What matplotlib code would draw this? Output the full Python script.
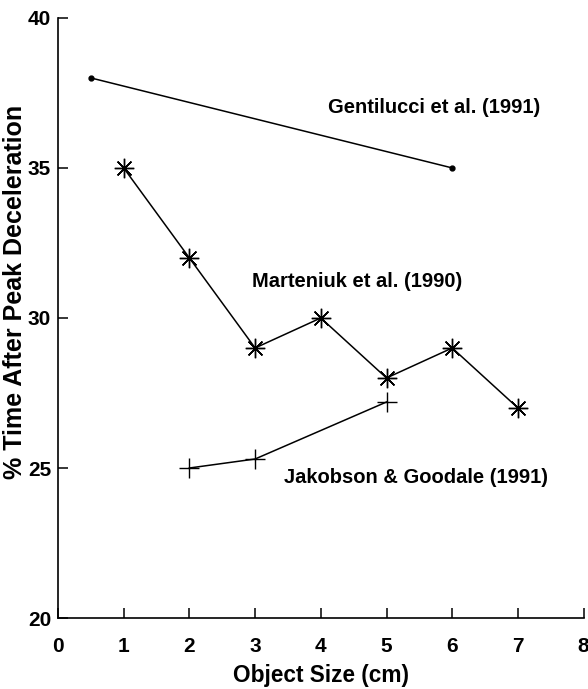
import matplotlib.pyplot as plt

plt.rcParams['font.family'] = ['Liberation Sans', 'DejaVu Sans']
plt.rcParams['font.weight'] = 'bold'

# % time after peak deceleration vs object size
gent_x = [0.5, 6]
gent_y = [38, 35]

mart_x = [1, 2, 3, 4, 5, 6, 7]
mart_y = [35, 32, 29, 30, 28, 29, 27]

jak_x = [2, 3, 5]
jak_y = [25, 25.3, 27.2]

x_ticks = [0, 1, 2, 3, 4, 5, 6, 7, 8]
y_ticks = [20, 25, 30, 35, 40]

fig = plt.figure(figsize=(5.88, 6.89), dpi=100)
ax = fig.add_axes([0.0986, 0.103, 0.894, 0.871])

ax.plot(gent_x, gent_y, color='black', lw=1.1, marker='o', ms=3.5)
ax.plot(mart_x, mart_y, color='black', lw=1.1, marker=(8, 2, 0), ms=14, mew=1.0)
ax.plot(jak_x, jak_y, color='black', lw=1.1, marker='+', ms=14, mew=1.0)

ax.text(5.73, 37.03, 'Gentilucci et al. (1991)', ha='center', va='center',
        fontsize=14.5, fontweight='bold')
ax.text(4.56, 31.2, 'Marteniuk et al. (1990)', ha='center', va='center',
        fontsize=14.5, fontweight='bold')
ax.text(5.45, 24.7, 'Jakobson & Goodale (1991)', ha='center', va='center',
        fontsize=14.5, fontweight='bold')

ax.set_xlim(0, 8)
ax.set_ylim(20, 40)
ax.set_xticks(x_ticks)
ax.set_yticks(y_ticks)
ax.tick_params(direction='in', length=7, width=1.1, labelsize=15)
ax.tick_params(axis='x', pad=14)
ax.tick_params(axis='y', pad=5)
for lab in ax.get_xticklabels() + ax.get_yticklabels():
    lab.set_fontweight('bold')
ax.spines['top'].set_visible(False)
ax.spines['right'].set_visible(False)
ax.spines['left'].set_linewidth(1.2)
ax.spines['bottom'].set_linewidth(1.2)

ax.set_xlabel('Object Size (cm)', fontsize=16.3, fontweight='bold')
ax.set_ylabel('% Time After Peak Deceleration', fontsize=18, fontweight='bold')
ax.xaxis.set_label_coords(0.5, -0.076)
ax.yaxis.set_label_coords(-0.058, 0.543)

fig.savefig('out.png', dpi=100)
